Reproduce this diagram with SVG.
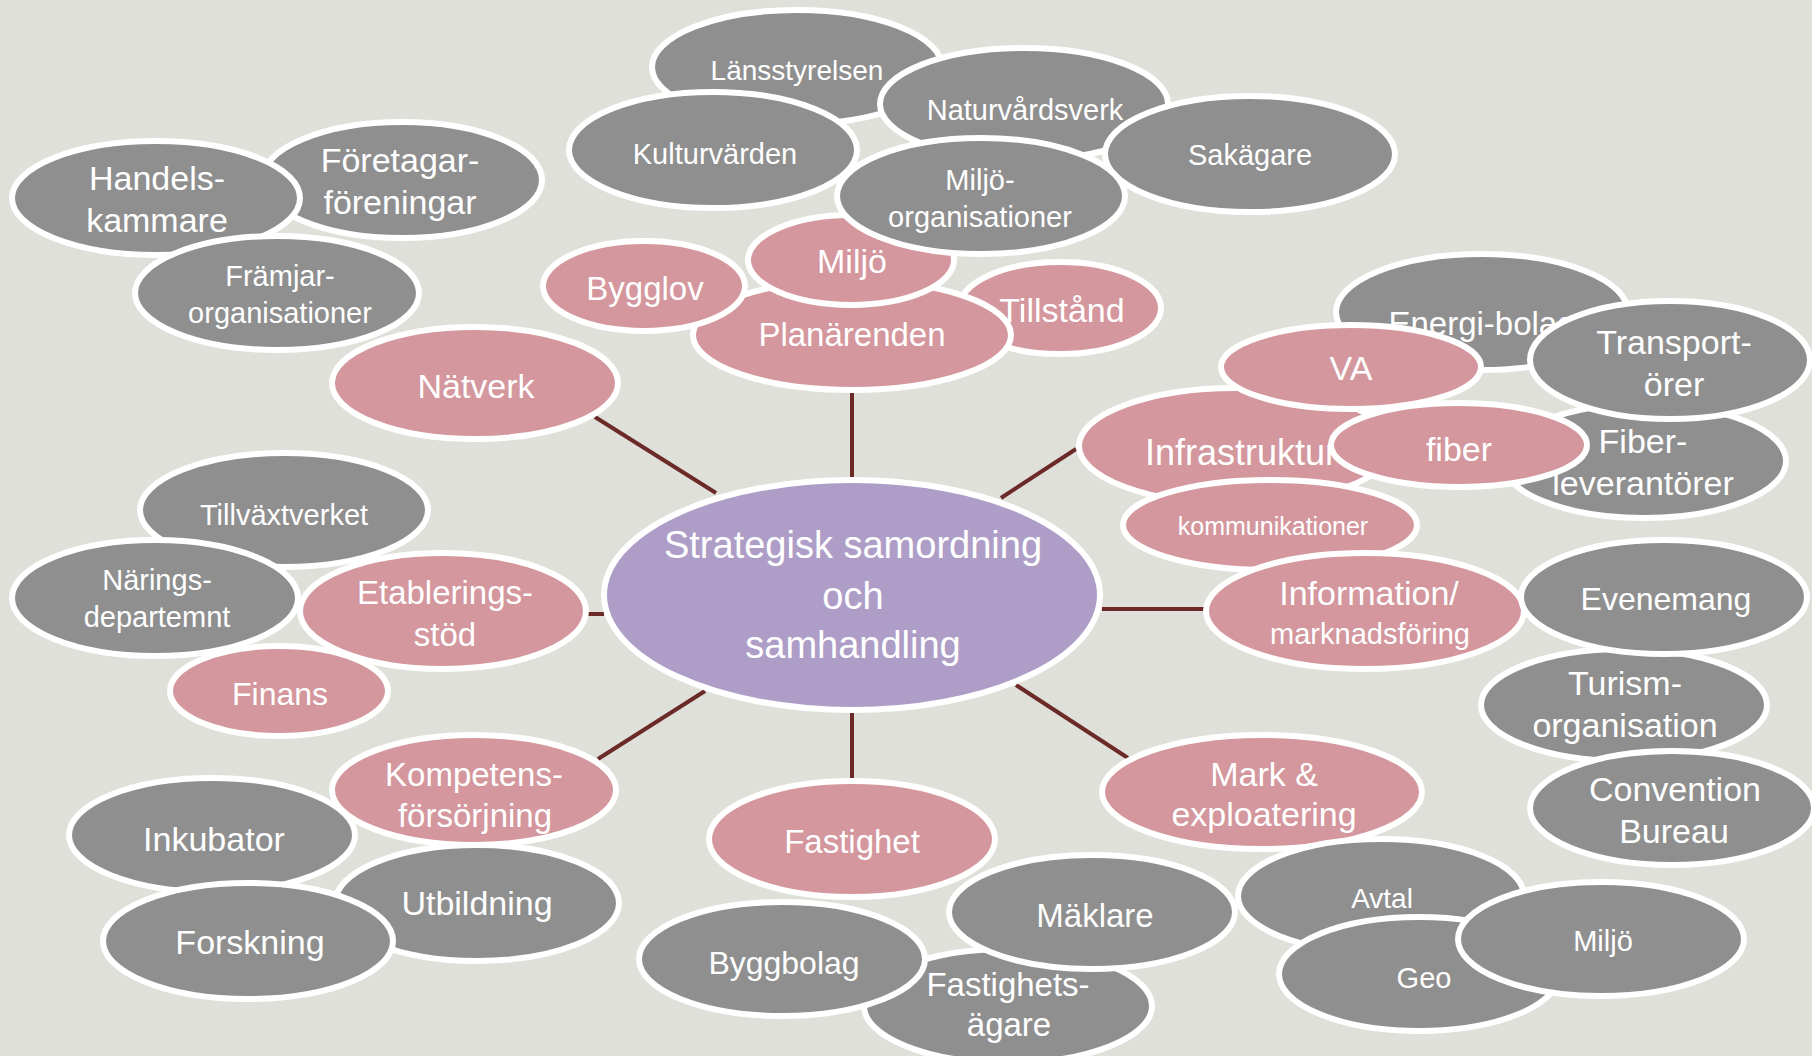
<svg xmlns="http://www.w3.org/2000/svg" width="1812" height="1056" viewBox="0 0 1812 1056">
<style>
.g{fill:#8f8f8f;stroke:#fff;stroke-width:6}
.p{fill:#d3979d;stroke:#fff;stroke-width:6}
.c{fill:#ae9ec7;stroke:#fff;stroke-width:6}
text{fill:#fff;font-family:"Liberation Sans",Arial,sans-serif;text-anchor:middle}
.L{font-size:34px}.B{font-size:33px}.M{font-size:29px}.S{font-size:25px}.X{font-size:38px}
.e{stroke:#6b2a28;stroke-width:4;fill:none}
</style>
<rect width="1812" height="1056" fill="#dfe0d9"/>
<g id="connectors" class="e">
<line x1="852" y1="392" x2="852" y2="480"/>
<line x1="595" y1="417" x2="716" y2="493"/>
<line x1="1076" y1="449" x2="1001" y2="498"/>
<line x1="1102" y1="609" x2="1206" y2="609"/>
<line x1="586" y1="614" x2="604" y2="614"/>
<line x1="598" y1="759" x2="705" y2="691"/>
<line x1="852" y1="710" x2="852" y2="781"/>
<line x1="1016" y1="685" x2="1128" y2="758"/>
</g>
<g id="n-lansstyrelsen"><ellipse class="g" cx="797" cy="67" rx="145" ry="57"/><text class="M" x="797" y="80" style="font-size:28px">Länsstyrelsen</text></g>
<g id="n-naturvardsverk"><ellipse class="g" cx="1024" cy="104" rx="144" ry="56"/><text class="M" x="1025" y="120">Naturvårdsverk</text></g>
<g id="n-kulturvarden"><ellipse class="g" cx="713" cy="150" rx="144" ry="58"/><text class="M" x="715" y="164">Kulturvärden</text></g>
<g id="n-sakagare"><ellipse class="g" cx="1250" cy="154" rx="145" ry="58"/><text class="M" x="1250" y="165">Sakägare</text></g>
<g id="n-tillstand"><ellipse class="p" cx="1060" cy="308" rx="101" ry="46"/><text class="L" x="1062" y="322">Tillstånd</text></g>
<g id="n-planarenden"><ellipse class="p" cx="852" cy="335" rx="159" ry="55"/><text class="B" x="852" y="346">Planärenden</text></g>
<g id="n-bygglov"><ellipse class="p" cx="644" cy="286" rx="101" ry="45"/><text class="B" x="645" y="300">Bygglov</text></g>
<g id="n-miljo-p"><ellipse class="p" cx="851" cy="260" rx="103" ry="45"/><text class="L" x="852" y="273">Miljö</text></g>
<g id="n-miljoorg"><ellipse class="g" cx="981" cy="196" rx="144" ry="58"/><text class="M" x="980" y="190">Miljö-</text><text class="M" x="980" y="227">organisationer</text></g>
<g id="n-foretagar"><ellipse class="g" cx="402" cy="180" rx="140" ry="58"/><text class="L" x="400" y="172">Företagar-</text><text class="L" x="400" y="214">föreningar</text></g>
<g id="n-handels"><ellipse class="g" cx="156" cy="198" rx="144" ry="57"/><text class="L" x="157" y="190">Handels-</text><text class="L" x="157" y="232">kammare</text></g>
<g id="n-framjar"><ellipse class="g" cx="277" cy="293" rx="142" ry="57"/><text class="M" x="280" y="286">Främjar-</text><text class="M" x="280" y="323">organisationer</text></g>
<g id="n-natverk"><ellipse class="p" cx="475" cy="383" rx="143" ry="56"/><text class="L" x="476" y="398">Nätverk</text></g>
<g id="n-tillvaxtverket"><ellipse class="g" cx="284" cy="510" rx="144" ry="57"/><text class="M" x="284" y="525">Tillväxtverket</text></g>
<g id="n-narings"><ellipse class="g" cx="155" cy="598" rx="143" ry="58"/><text class="M" x="157" y="590">Närings-</text><text class="M" x="157" y="627">departemnt</text></g>
<g id="n-etablerings"><ellipse class="p" cx="443" cy="611" rx="143" ry="58"/><text class="B" x="445" y="604">Etablerings-</text><text class="B" x="445" y="646">stöd</text></g>
<g id="n-finans"><ellipse class="p" cx="279" cy="691" rx="109" ry="45"/><text class="B" x="280" y="705" style="font-size:32px">Finans</text></g>
<g id="n-inkubator"><ellipse class="g" cx="212" cy="835" rx="143" ry="57"/><text class="L" x="214" y="851">Inkubator</text></g>
<g id="n-kompetens"><ellipse class="p" cx="474" cy="790" rx="142" ry="55"/><text class="B" x="474" y="786">Kompetens-</text><text class="B" x="475" y="827">försörjning</text></g>
<g id="n-utbildning"><ellipse class="g" cx="477" cy="903" rx="142" ry="58"/><text class="L" x="477" y="915">Utbildning</text></g>
<g id="n-forskning"><ellipse class="g" cx="248" cy="941" rx="145" ry="58"/><text class="L" x="250" y="954">Forskning</text></g>
<g id="n-fastighet"><ellipse class="p" cx="852" cy="839" rx="143" ry="58"/><text class="B" x="852" y="853">Fastighet</text></g>
<g id="n-fastighetsagare"><ellipse class="g" cx="1008" cy="1006" rx="144" ry="57"/><text class="B" x="1008" y="996">Fastighets-</text><text class="B" x="1009" y="1036">ägare</text></g>
<g id="n-byggbolag"><ellipse class="g" cx="782" cy="959" rx="143" ry="57"/><text class="B" x="784" y="974" style="font-size:32px">Byggbolag</text></g>
<g id="n-maklare"><ellipse class="g" cx="1092" cy="912" rx="143" ry="57"/><text class="B" x="1095" y="927">Mäklare</text></g>
<g id="n-mark"><ellipse class="p" cx="1262" cy="792" rx="160" ry="57"/><text class="L" x="1264" y="786">Mark &amp;</text><text class="L" x="1264" y="826">exploatering</text></g>
<g id="n-avtal"><ellipse class="g" cx="1381" cy="896" rx="143" ry="57"/><text class="M" x="1382" y="908" style="font-size:28px">Avtal</text></g>
<g id="n-geo"><ellipse class="g" cx="1419" cy="974" rx="140" ry="57"/><text class="M" x="1424" y="988">Geo</text></g>
<g id="n-miljo-g"><ellipse class="g" cx="1601" cy="939" rx="143" ry="57"/><text class="M" x="1603" y="951">Miljö</text></g>
<g id="n-energibolag"><ellipse class="g" cx="1482" cy="312" rx="146" ry="58"/><text class="B" x="1482" y="335">Energi-bolag</text></g>
<g id="n-fiberlev"><ellipse class="g" cx="1644" cy="461" rx="142" ry="57"/><text class="L" x="1643" y="453">Fiber-</text><text class="L" x="1643" y="495">leverantörer</text></g>
<g id="n-transport"><ellipse class="g" cx="1670" cy="360" rx="140" ry="59"/><text class="L" x="1674" y="354">Transport-</text><text class="L" x="1674" y="396">örer</text></g>
<g id="n-infrastruktur"><ellipse class="p" cx="1236" cy="446" rx="157" ry="58"/><text class="B" x="1241" y="465" style="font-size:36px">Infrastruktur</text></g>
<g id="n-va"><ellipse class="p" cx="1351" cy="367" rx="130" ry="42"/><text class="L" x="1351" y="380">VA</text></g>
<g id="n-fiber"><ellipse class="p" cx="1459" cy="445" rx="128" ry="42"/><text class="L" x="1459" y="461">fiber</text></g>
<g id="n-kommunikationer"><ellipse class="p" cx="1270" cy="525" rx="147" ry="45"/><text class="S" x="1273" y="535">kommunikationer</text></g>
<g id="n-information"><ellipse class="p" cx="1365" cy="611" rx="159" ry="58"/><text class="L" x="1369" y="605">Information/</text><text class="M" x="1370" y="644">marknadsföring</text></g>
<g id="n-turism"><ellipse class="g" cx="1624" cy="705" rx="143" ry="56"/><text class="L" x="1625" y="695">Turism-</text><text class="L" x="1625" y="737">organisation</text></g>
<g id="n-evenemang"><ellipse class="g" cx="1664" cy="597" rx="143" ry="57"/><text class="L" x="1666" y="610" style="font-size:32px">Evenemang</text></g>
<g id="n-convention"><ellipse class="g" cx="1672" cy="808" rx="142" ry="57"/><text class="L" x="1675" y="801">Convention</text><text class="L" x="1674" y="843">Bureau</text></g>
<g id="n-center"><ellipse class="c" cx="852" cy="595" rx="248" ry="115"/><text class="X" x="853" y="558">Strategisk samordning</text><text class="X" x="853" y="609">och</text><text class="X" x="853" y="658">samhandling</text></g>
</svg>
